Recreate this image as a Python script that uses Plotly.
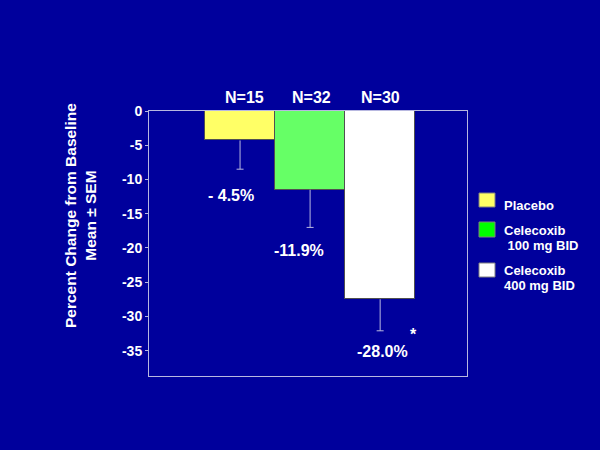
import plotly.graph_objects as go

# ---- data ----
groups = ["Placebo", "Celecoxib 100 mg BID", "Celecoxib 400 mg BID"]
bar_values = [-4.3, -11.5, -27.5]
sem_values = [4.2, 5.5, 4.6]
n_labels = ["N=15", "N=32", "N=30"]
value_labels = ["- 4.5%", "-11.9%", "-28.0%"]
bar_colors = ["#FFFF66", "#66FF66", "#FFFFFF"]
legend_colors = ["#FFFF66", "#00FF00", "#FFFFFF"]
legend_lines = [["Placebo"], ["Celecoxib", " 100 mg BID"], ["Celecoxib", "400 mg BID"]]
y_ticks = [0, -5, -10, -15, -20, -25, -30, -35]

BG = "#00009C"
FONT = "Liberation Sans, Arial, sans-serif"
AXC = "#B8B8E0"

W, H = 600, 450
L, R, T, B = 149, 467, 111, 376


def px_x(p):
    return (p - L) / (R - L)


def px_y(p):
    return (B - p) / (B - T)


x = [0, 1, 2]
fig = go.Figure()
fig.add_trace(go.Bar(
    x=x, y=bar_values, width=1,
    marker=dict(color=bar_colors, line=dict(color="#505050", width=1)),
    showlegend=False, hoverinfo="skip",
))

# whiskers (downward only) built from the data
cap = 0.05
wx, wy = [], []
for xi, v, s in zip(x, bar_values, sem_values):
    wx += [xi, xi, None, xi - cap, xi + cap, None]
    wy += [v, v - s, None, v - s, v - s, None]
fig.add_trace(go.Scatter(x=wx, y=wy, mode="lines", line=dict(color=AXC, width=1),
                         showlegend=False, hoverinfo="skip", cliponaxis=False))

annots = []
# N labels
n_pos = [0.07, 1.02, 2.0]
for xi, t in zip(n_pos, n_labels):
    annots.append(dict(x=xi, y=px_y(97), xref="x", yref="paper", text=t, showarrow=False,
                       xanchor="center", yanchor="middle",
                       font=dict(family=FONT, size=16, color="white", weight="bold")))
# value labels
v_pos = [(-0.13, -12.3), (0.84, -20.35), (2.04, -35.1)]
for (xi, yi), t in zip(v_pos, value_labels):
    annots.append(dict(x=xi, y=yi, xref="x", yref="y", text=t, showarrow=False,
                       xanchor="center", yanchor="middle",
                       font=dict(family=FONT, size=16, color="white", weight="bold")))
annots.append(dict(x=2.47, y=-32.6, xref="x", yref="y", text="*", showarrow=False,
                   xanchor="center", yanchor="middle",
                   font=dict(family=FONT, size=16, color="white", weight="bold")))
# y title
annots.append(dict(x=px_x(80), y=px_y(216), xref="paper", yref="paper",
                   text="Percent Change from Baseline<br>Mean ± SEM", textangle=-90,
                   showarrow=False, align="center", xanchor="center", yanchor="middle",
                   font=dict(family=FONT, size=15.5, color="white", weight="bold")))

# legend
shapes = []
sq = [(193, 207), (222, 237), (263, 277)]
txt_y = [205, [230, 245], [270, 285]]
for i, (c, (y0, y1)) in enumerate(zip(legend_colors, sq)):
    shapes.append(dict(type="rect", xref="paper", yref="paper",
                       x0=px_x(479), x1=px_x(495), y0=px_y(y1), y1=px_y(y0),
                       fillcolor=c, line=dict(color="#808080", width=1)))
    lines = legend_lines[i]
    ys = txt_y[i] if isinstance(txt_y[i], list) else [txt_y[i]]
    for ln, yy in zip(lines, ys):
        annots.append(dict(x=px_x(502), y=px_y(yy), xref="paper", yref="paper",
                           text=ln.replace(" ", "&nbsp;", 1) if ln.startswith(" ") else ln,
                           showarrow=False, xanchor="left", yanchor="middle",
                           font=dict(family=FONT, size=13, color="white", weight="bold")))

fig.update_layout(
    width=W, height=H,
    margin=dict(l=L, r=W - R, t=T, b=H - B, pad=0),
    paper_bgcolor=BG, plot_bgcolor=BG,
    bargap=0,
    xaxis=dict(range=[-1.3, 3.24], showticklabels=False, ticks="", showgrid=False,
               zeroline=False, showline=True, linecolor=AXC, linewidth=1, mirror=True),
    yaxis=dict(range=[-38.7, 0], tickvals=y_ticks, ticktext=[str(v) for v in y_ticks],
               ticks="outside", ticklen=3, tickcolor=AXC, showgrid=False, zeroline=False,
               showline=True, linecolor=AXC, linewidth=1, mirror=True,
               tickfont=dict(family=FONT, size=14, color="white", weight="bold")),
    annotations=annots, shapes=shapes,
)

fig.write_html("out.html", config={"displayModeBar": False},
               post_script="document.body.style.margin='0';document.body.style.background='" + BG + "';")
